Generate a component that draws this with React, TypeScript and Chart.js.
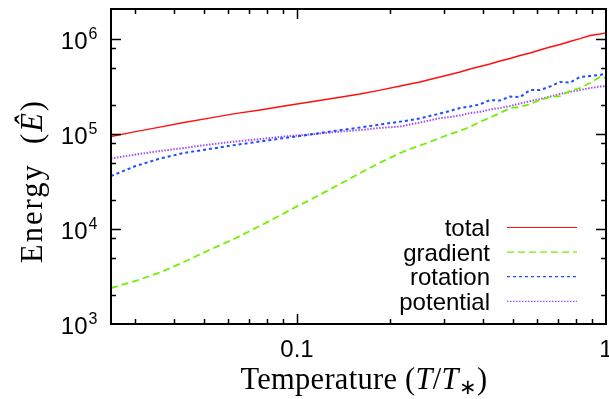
import { useEffect, useRef } from 'react';
import { Chart, registerables } from 'chart.js';

Chart.register(...registerables);

// ---------- data ----------
const temperature = [
  0.025, 0.03, 0.036, 0.043, 0.052, 0.063, 0.076, 0.091, 0.1, 0.11, 0.133, 0.16, 0.186,
  0.216, 0.232, 0.25, 0.269, 0.29, 0.313, 0.337, 0.363, 0.391, 0.421, 0.454, 0.489,
  0.527, 0.568, 0.611, 0.659, 0.71, 0.764, 0.824, 0.888, 0.956, 1.0,
];
const totalEnergy = [
  9.4e4, 1.06e5, 1.18e5, 1.32e5, 1.47e5, 1.64e5, 1.79e5, 1.97e5, 2.07e5, 2.17e5, 2.39e5,
  2.64e5, 2.9e5, 3.2e5, 3.36e5, 3.53e5, 3.75e5, 3.98e5, 4.23e5, 4.5e5, 4.83e5, 5.14e5,
  5.46e5, 5.87e5, 6.24e5, 6.7e5, 7.12e5, 7.66e5, 8.24e5, 8.75e5, 9.42e5, 1.01e6, 1.09e6,
  1.13e6, 1.16e6,
];
const gradientEnergy = [
  2.39e3, 2.84e3, 3.48e3, 4.49e3, 6.01e3, 7.94e3, 1.08e4, 1.47e4, 1.73e4, 2.02e4, 2.8e4,
  3.88e4, 5.01e4, 6.31e4, 6.95e4, 7.57e4, 8.24e4, 9.08e4, 1.0e5, 1.08e5, 1.19e5, 1.34e5,
  1.49e5, 1.66e5, 1.88e5, 1.92e5, 2.07e5, 2.28e5, 2.45e5, 2.51e5, 2.84e5, 3.05e5, 3.44e5,
  3.98e5, 3.88e5,
];
const rotationEnergy = [
  3.61e4, 4.6e4, 5.52e4, 6.31e4, 6.95e4, 7.66e4, 8.34e4, 9.08e4, 9.42e4, 9.88e4, 1.08e5,
  1.17e5, 1.26e5, 1.35e5, 1.4e5, 1.46e5, 1.55e5, 1.64e5, 1.75e5, 1.88e5, 1.95e5, 2.05e5,
  2.28e5, 2.25e5, 2.48e5, 2.45e5, 2.9e5, 2.9e5, 3.16e5, 3.53e5, 3.48e5, 3.98e5, 4.08e5,
  4.18e5, 4.33e5,
];
const potentialEnergy = [
  5.52e4, 6.08e4, 6.62e4, 7.12e4, 7.75e4, 8.34e4, 8.85e4, 9.42e4, 9.64e4, 9.88e4, 1.05e5,
  1.1e5, 1.16e5, 1.2e5, 1.26e5, 1.32e5, 1.39e5, 1.47e5, 1.51e5, 1.57e5, 1.66e5, 1.71e5,
  1.81e5, 1.88e5, 1.97e5, 2.09e5, 2.22e5, 2.33e5, 2.48e5, 2.64e5, 2.77e5, 2.9e5, 3.05e5,
  3.16e5, 3.2e5,
];
const seriesLabels = ['total', 'gradient', 'rotation', 'potential'];

const xRange = [0.025, 1];
const yRange = [1000, 2.07e6];
const xMajorTicks = [0.1, 1];
const xTickLabels = ['0.1', '1'];
const xMinorTicks = [0.03, 0.04, 0.05, 0.06, 0.07, 0.08, 0.09, 0.2, 0.3, 0.4, 0.5, 0.6, 0.7, 0.8, 0.9];
const yMajorTicks = [1e3, 1e4, 1e5, 1e6];
const yTickExponents = ['3', '4', '5', '6'];
const yMinorTicks = [2e3, 5e3, 8e3, 2e4, 5e4, 8e4, 2e5, 5e5, 8e5];

const yTitle = [
  { text: 'Energy', italic: false },
  { text: '  ', italic: false },
  { text: '(', italic: false },
  { text: 'Ê', italic: true },
  { text: ')', italic: false },
];
const xTitle = [
  { text: 'Temperature', italic: false },
  { text: ' ', italic: false },
  { text: '(', italic: false },
  { text: 'T', italic: true },
  { text: '/', italic: false },
  { text: 'T', italic: true },
  { text: '∗', italic: false, sub: true },
  { text: ')', italic: false },
];

// ---------- styles ----------
const colors = ['#ff1010', '#72f000', '#1f4dff', '#a150f0'];
const dashes: number[][] = [[], [7, 4], [3, 3], [1.5, 1.5]];
const widths = [1.4, 1.8, 2, 2];

const SANS = '"Liberation Sans", Arial, sans-serif';
const SERIF = '"Liberation Serif", "Times New Roman", serif';

type Seg = { text: string; italic: boolean; sub?: boolean };

function drawRich(ctx: CanvasRenderingContext2D, segs: Seg[], size: number, targetWidth: number) {
  const font = (s: Seg) => `${s.italic ? 'italic ' : ''}${s.sub ? size * 0.7 : size}px ${SERIF}`;
  (ctx as any).letterSpacing = '0px';
  let w = 0;
  let n = 0;
  for (const s of segs) {
    ctx.font = font(s);
    w += ctx.measureText(s.text).width;
    n += s.text.length;
  }
  const sp = (targetWidth - w) / n;
  (ctx as any).letterSpacing = `${sp}px`;
  let x = -targetWidth / 2;
  ctx.textAlign = 'left';
  ctx.textBaseline = 'alphabetic';
  for (const s of segs) {
    ctx.font = font(s);
    ctx.fillText(s.text, x, s.sub ? size * 0.18 : 0);
    x += ctx.measureText(s.text).width;
  }
  (ctx as any).letterSpacing = '0px';
}

const decorPlugin = {
  id: 'decor',
  afterDraw(chart: any) {
    const ctx: CanvasRenderingContext2D = chart.ctx;
    const { left, right, top, bottom } = chart.chartArea;
    const xs = chart.scales.x;
    const ys = chart.scales.y;
    ctx.save();
    ctx.strokeStyle = '#000';
    ctx.fillStyle = '#000';
    ctx.lineWidth = 1.5;
    ctx.setLineDash([]);
    ctx.beginPath();
    const xt = (v: number, len: number) => {
      const p = Math.round(xs.getPixelForValue(v)) + 0.5;
      if (p < left + 2 || p > right - 2) return;
      ctx.moveTo(p, bottom);
      ctx.lineTo(p, bottom - len);
      ctx.moveTo(p, top);
      ctx.lineTo(p, top + len);
    };
    const yt = (v: number, len: number) => {
      const p = Math.round(ys.getPixelForValue(v)) + 0.5;
      if (p < top + 2 || p > bottom - 2) return;
      ctx.moveTo(left, p);
      ctx.lineTo(left + len, p);
      ctx.moveTo(right, p);
      ctx.lineTo(right - len, p);
    };
    xMinorTicks.forEach((v) => xt(v, 5));
    xMajorTicks.forEach((v) => xt(v, 10));
    yMinorTicks.forEach((v) => yt(v, 5));
    yMajorTicks.forEach((v) => yt(v, 10));
    ctx.stroke();

    ctx.lineWidth = 2;
    ctx.strokeRect(left, top, right - left, bottom - top);

    // y tick labels 10^n
    yMajorTicks.forEach((v, i) => {
      const p = ys.getPixelForValue(v);
      ctx.font = `24px ${SANS}`;
      ctx.textAlign = 'right';
      ctx.textBaseline = 'alphabetic';
      ctx.fillText('10', 87.5, p + 9.5);
      ctx.font = `16px ${SANS}`;
      ctx.textAlign = 'left';
      ctx.fillText(yTickExponents[i], 88.5, p);
    });
    // x tick labels
    xMajorTicks.forEach((v, i) => {
      const p = xs.getPixelForValue(v);
      ctx.font = `24px ${SANS}`;
      ctx.textAlign = 'center';
      ctx.textBaseline = 'alphabetic';
      ctx.fillText(xTickLabels[i], p, 357);
    });

    // axis titles
    ctx.save();
    ctx.translate(364, 389);
    drawRich(ctx, xTitle, 30.5, 247);
    ctx.restore();
    ctx.save();
    ctx.translate(42, 181);
    ctx.rotate(-Math.PI / 2);
    drawRich(ctx, yTitle, 30.5, 164);
    ctx.restore();

    // legend
    seriesLabels.forEach((lab, i) => {
      const ry = 227 + i * 24.6;
      ctx.font = `24px ${SANS}`;
      ctx.textAlign = 'right';
      ctx.textBaseline = 'alphabetic';
      ctx.fillStyle = '#000';
      ctx.fillText(lab, 490, ry + 9);
      ctx.strokeStyle = colors[i];
      ctx.lineWidth = 1.2;
      ctx.setLineDash(dashes[i]);
      ctx.beginPath();
      ctx.moveTo(507, ry + 0.5);
      ctx.lineTo(577, ry + 0.5);
      ctx.stroke();
    });
    ctx.restore();
  },
};

export default function App() {
  const ref = useRef<HTMLCanvasElement | null>(null);
  useEffect(() => {
    document.body.style.margin = '0';
    const series = [totalEnergy, gradientEnergy, rotationEnergy, potentialEnergy];
    const chart = new Chart(ref.current as HTMLCanvasElement, {
      type: 'scatter',
      data: {
        datasets: series.map((vals, i) => ({
          label: seriesLabels[i],
          data: temperature.map((t, j) => ({ x: t, y: vals[j] })),
          showLine: true,
          borderColor: colors[i],
          backgroundColor: colors[i],
          borderWidth: widths[i],
          borderDash: dashes[i],
          pointRadius: 0,
          tension: 0,
          fill: false,
        })),
      },
      options: {
        animation: false,
        responsive: false,
        devicePixelRatio: 1,
        layout: { padding: { left: 111, right: 3, top: 9, bottom: 75 } },
        plugins: { legend: { display: false }, tooltip: { enabled: false } },
        scales: {
          x: { type: 'logarithmic', min: xRange[0], max: xRange[1], display: false },
          y: { type: 'logarithmic', min: yRange[0], max: yRange[1], display: false },
        },
      },
      plugins: [decorPlugin],
    });
    return () => chart.destroy();
  }, []);
  return (
    <div style={{ width: 609, height: 399, background: '#fff' }}>
      <canvas ref={ref} width={609} height={399} />
    </div>
  );
}
